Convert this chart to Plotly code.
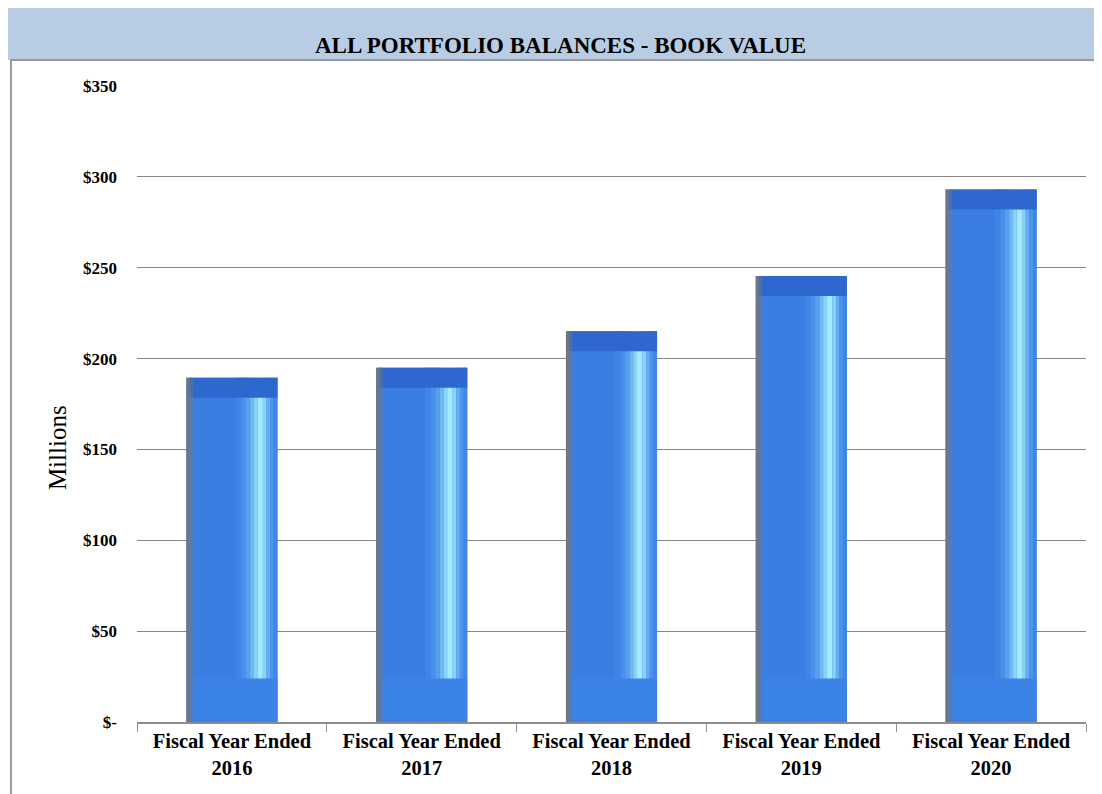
import plotly.graph_objects as go

# valeurs (millions $)
years = ["2016", "2017", "2018", "2019", "2020"]
balances = [189.5, 195.0, 215.0, 245.5, 293.0]
y_ticks = [0, 50, 100, 150, 200, 250, 300, 350]
y_tick_text = ["$-", "$50", "$100", "$150", "$200", "$250", "$300", "$350"]

categories = ["Fiscal Year Ended<br>" + y for y in years]

FONT = "Liberation Serif, Times New Roman, serif"
BAR_W = 0.48
LEFT = -BAR_W / 2

fig = go.Figure()


def strip(start, end, color, y=None, base=None):
    # morceau vertical de la barre (fractions de la largeur)
    fig.add_trace(go.Bar(
        x=categories,
        y=y if y is not None else balances,
        base=base,
        width=[BAR_W * (end - start)] * len(categories),
        offset=[LEFT + BAR_W * start] * len(categories),
        marker=dict(color=color, line=dict(width=0)),
        hoverinfo="skip",
        showlegend=False,
    ))


# corps principal
fig.add_trace(go.Bar(
    x=categories,
    y=balances,
    width=[BAR_W] * len(categories),
    offset=[LEFT] * len(categories),
    marker=dict(color="#3A7EE2", line=dict(width=0)),
    showlegend=False,
    hovertemplate="%{y:$.1f}M<extra></extra>",
))

# effet biseauté (approximation)
strip(0.000, 0.035, "#6D7686")
strip(0.035, 0.070, "#5D7BAA")
strip(0.54, 0.60, "#4085E6")
strip(0.60, 0.65, "#4990EA")
strip(0.65, 0.70, "#58A0EE")
strip(0.70, 0.74, "#6EB8F3")
strip(0.74, 0.78, "#8AD2F9")
strip(0.78, 0.84, "#A4EAFE")
strip(0.84, 0.88, "#8AD2F8")
strip(0.88, 0.92, "#66ADF0")
strip(0.92, 0.96, "#4C94EB")
strip(0.96, 1.00, "#3F86E6")

top_h = [11] * len(balances)
top_base = [v - 11 for v in balances]
strip(0.07, 1.00, "#2E68CE", y=top_h, base=top_base)
strip(0.035, 0.07, "#4C6FA8", y=top_h, base=top_base)

bot_h = [24] * len(balances)
strip(0.07, 1.00, "#3C83E7", y=bot_h, base=[0] * len(balances))

fig.update_layout(
    width=1094,
    height=786,
    barmode="overlay",
    paper_bgcolor="white",
    plot_bgcolor="white",
    margin=dict(l=129, r=16, t=78, b=72),
    font=dict(family=FONT, color="black"),
    shapes=[
        # bandeau du titre
        dict(type="rect", xref="paper", yref="paper",
             x0=-0.15, x1=1.03, y0=1.0409, y1=1.1289,
             fillcolor="#B8CCE4", line=dict(width=0), layer="below"),
        # cadre
        dict(type="line", xref="paper", yref="paper",
             x0=-0.1338, x1=1.03, y0=1.0409, y1=1.0409,
             line=dict(color="#9A9A9A", width=2)),
        dict(type="line", xref="paper", yref="paper",
             x0=-0.1328, x1=-0.1328, y0=1.0409, y1=-0.12,
             line=dict(color="#9A9A9A", width=2)),
    ],
    annotations=[
        dict(text="<b>ALL PORTFOLIO BALANCES - BOOK VALUE</b>",
             xref="paper", yref="paper", x=0.4465, y=1.064,
             xanchor="center", yanchor="middle", showarrow=False,
             font=dict(family=FONT, size=23, color="black")),
        dict(text="Millions", xref="paper", yref="paper",
             x=-0.083, y=0.431, textangle=-90,
             xanchor="center", yanchor="middle", showarrow=False,
             font=dict(family=FONT, size=25, color="black")),
    ],
)

fig.update_yaxes(
    range=[0, 350],
    tickvals=y_ticks,
    ticktext=["<b>" + t + "</b>" for t in y_tick_text],
    tickfont=dict(family=FONT, size=17, color="black"),
    ticks="",
    ticklabelstandoff=19,
    showgrid=True,
    gridcolor="#858585",
    gridwidth=1,
    zeroline=False,
    showline=False,
)

fig.update_xaxes(
    tickvals=categories,
    ticktext=["<b>" + c + "</b>" for c in categories],
    tickfont=dict(family=FONT, size=20.5, color="black"),
    tickson="boundaries",
    ticks="outside",
    ticklen=8,
    tickcolor="#8C8C8C",
    showline=True,
    linecolor="#8C8C8C",
    linewidth=1.5,
    showgrid=False,
)

fig.write_html("out.html")
